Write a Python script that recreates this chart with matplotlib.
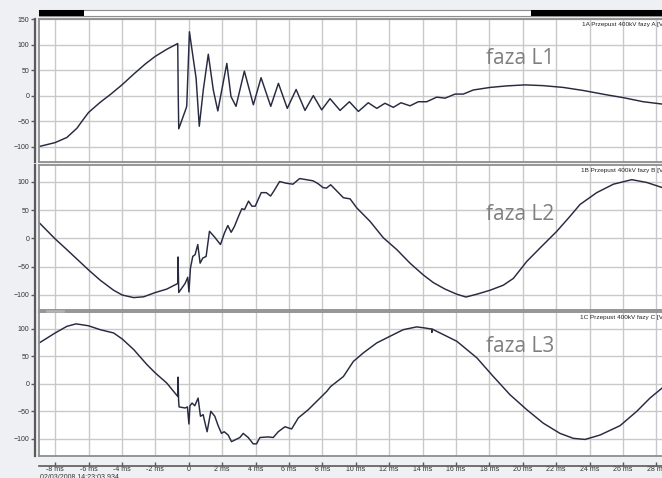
import matplotlib
matplotlib.use("Agg")
import matplotlib.pyplot as plt
from matplotlib.patches import Rectangle
from matplotlib.lines import Line2D

# --- przebiegi napięć [ms], [V] ---
l1_t = [-8.95, -8.0, -7.3, -6.7, -6.3, -6.0, -5.3, -4.7, -4.0, -3.3, -2.6, -2.0,
        -1.3, -0.66, -0.63, -0.60, -0.16, -0.12, 0.04, 0.28, 0.44, 0.63, 0.87,
        1.17, 1.47, 1.74, 2.28, 2.53, 2.83, 3.33, 3.87, 4.33, 4.91, 5.37, 5.90,
        6.43, 6.96, 7.46, 7.96, 8.46, 9.06, 9.62, 10.16, 10.75, 11.26, 11.75,
        12.25, 12.71, 13.25, 13.75, 14.25, 14.85, 15.35, 15.95, 16.44, 17.04,
        18.04, 19.04, 20.14, 21.23, 22.43, 23.63, 25.03, 26.02, 27.22, 28.46]
l1_v = [-99.6, -92, -82, -64, -46, -33, -13, 2, 21, 42, 62, 77,
        91, 102, 0, -65, -25, -20, 125, 70, 34, -60, 11,
        81, 11, -30, 63, -2, -21, 48, -18, 35, -21, 24, -25,
        12, -29, 0, -28, -6, -29, -12, -31, -14, -25, -15,
        -23, -14, -20, -12, -12, -3, -5, 3, 3, 11,
        16, 19, 21, 19.5, 16, 10, 1.5, -4, -12, -17]

l2_t = [-8.95, -8.0, -7.3, -6.0, -5.31, -4.5, -3.98, -3.3, -2.7, -2.0, -1.32,
        -0.66, -0.64, -0.60, -0.22, -0.06, 0.01, 0.10, 0.24, 0.38, 0.54, 0.68,
        0.84, 1.04, 1.24, 1.54, 1.90, 2.14, 2.34, 2.54, 2.74, 2.98, 3.18, 3.34,
        3.58, 3.78, 3.98, 4.34, 4.64, 4.90, 5.10, 5.44, 5.84, 6.24, 6.64, 7.04,
        7.44, 7.74, 8.04, 8.24, 8.50, 9.26, 9.66, 10.06, 10.86, 11.65, 12.46,
        13.25, 14.05, 14.65, 15.35, 16.05, 16.6, 17.25, 18.04, 18.84, 19.44,
        20.24, 21.04, 22.04, 22.83, 23.43, 24.43, 25.43, 26.53, 27.43, 28.46]
l2_v = [27.5, -1, -20, -56, -74, -92, -100.5, -105, -103.6, -96, -90,
        -80, -33, -96, -80, -69, -95, -53, -32, -29, -11, -44,
        -35, -32, 12.5, 2.5, -11, 9.6, 22.7, 10.7, 21.4, 39, 52.5, 51,
        66, 57, 57, 81, 81, 75, 84, 100.7, 97.7, 96, 106, 104,
        102, 97, 90, 89, 95, 72, 70, 54, 30, 1, -20,
        -44, -65, -78.5, -90, -99, -104, -99, -92, -83, -71,
        -41, -17, 12.5, 39, 60, 81, 96, 104, 99, 89]

l3_t = [-8.95, -8.0, -7.3, -6.75, -6.0, -5.31, -4.5, -3.98, -3.3, -2.5, -2.0,
        -1.32, -0.66, -0.64, -0.61, -0.58, -0.22, -0.08, 0.01, 0.07, 0.20, 0.36,
        0.56, 0.70, 0.86, 1.00, 1.10, 1.32, 1.56, 1.76, 1.96, 2.12, 2.36, 2.56,
        2.76, 3.06, 3.26, 3.56, 3.86, 4.06, 4.26, 4.76, 5.06, 5.36, 5.76, 6.16,
        6.56, 7.16, 7.76, 8.26, 8.50, 9.26, 9.86, 10.46, 11.26, 12.05, 12.85,
        13.65, 14.15, 14.55, 14.56, 14.58, 15.25, 16.05, 17.25, 18.24, 19.24,
        20.24, 21.23, 22.23, 23.03, 23.73, 24.63, 25.83, 26.83, 27.62, 28.46]
l3_v = [74, 92, 104, 108.5, 105, 98, 92, 81, 62, 34.5, 19.4,
        1.3, -23, 12, -29, -42, -44, -42, -73, -40, -35, -40,
        -26, -59, -56, -74.5, -87, -50, -59, -76, -90, -87, -93, -105,
        -102, -97.5, -90, -97.5, -109, -109, -97.5, -96.4, -97.5, -87, -78, -82,
        -62, -47, -29, -14, -5, 13, 40.5, 56, 74, 86, 98,
        103, 101, 99, 93, 99, 89, 77, 47, 13, -20,
        -47, -71.5, -90, -99, -101, -93, -76, -50, -26, -5]

x_ticks = [-8, -6, -4, -2, 0, 2, 4, 6, 8, 10, 12, 14, 16, 18, 20, 22, 24, 26, 28]
x_labels = [("0" if t == 0 else f"{t} ms") for t in x_ticks]
y_ticks_top = [150, 100, 50, 0, -50, -100]
y_ticks = [100, 50, 0, -50, -100]
channels = ["1A Przepust 400kV fazy A [V]", "1B Przepust 400kV fazy B [V]",
            "1C Przepust 400kV fazy C [V]"]
phases = ["faza L1", "faza L2", "faza L3"]
stamp = "02/03/2008 14:23:03.934"

W, H = 662, 478
X0 = 39.3
TRACE = "#272a40"
FRAME = "#8e8e8e"
AXIS = "#5a5a5a"
GRID = "#c9c9c9"


def rect(left, top, right, bottom):
    return [left / W, 1 - bottom / H, (right - left) / W, (bottom - top) / H]


fig = plt.figure(figsize=(W / 100, H / 100), dpi=100, facecolor="#eef0f3")

panels = [
    ((19, 162), (-130, 150), y_ticks_top, l1_t, l1_v, 24.5, 58),
    ((165, 310), (-127, 130), y_ticks, l2_t, l2_v, 170.7, 215),
    ((312, 456), (-131, 130), y_ticks, l3_t, l3_v, 317.3, 346.7),
]

axes = []
for i, ((top, bot), ylim, yt, t, v, ch_y, ph_y) in enumerate(panels):
    ax = fig.add_axes(rect(X0, top, 664, bot))
    ax.set_facecolor("white")
    ax.plot(t, v, color=TRACE, lw=1.05)
    ax.set_xlim(-8.95, 28.46)
    ax.set_ylim(*ylim)
    ax.set_xticks(x_ticks)
    ax.set_yticks(yt)
    ax.grid(True, color=GRID, lw=1.0)
    ax.set_axisbelow(True)
    for s in ("top", "right", "bottom"):
        ax.spines[s].set_color(FRAME)
        ax.spines[s].set_linewidth(1.3)
    ax.spines["left"].set_position(("outward", 3))
    ax.spines["left"].set_color(AXIS)
    ax.spines["left"].set_linewidth(1.6)
    # ramka panelu po lewej stronie (oś Y jest odsunięta)
    ax.add_line(Line2D([0, 0], [0, 1], transform=ax.transAxes, color=FRAME,
                       lw=1.3, clip_on=False))
    ax.tick_params(axis="y", direction="out", length=3, width=1, color=AXIS,
                   labelsize=5, labelcolor="#333333", pad=1)
    if i < 2:
        ax.tick_params(axis="x", length=0, labelbottom=False)
    else:
        ax.spines["bottom"].set_position(("outward", 7))
        ax.spines["bottom"].set_color(AXIS)
        ax.spines["bottom"].set_linewidth(1.2)
        ax.add_line(Line2D([0, 1], [0, 0], transform=ax.transAxes, color=FRAME,
                           lw=1.3, clip_on=False))
        ax.set_xticklabels(x_labels)
        ax.tick_params(axis="x", direction="in", length=3, width=1, color=AXIS,
                       labelsize=5, labelcolor="#333333", pad=0.5)
    for lab in ax.get_xticklabels() + ax.get_yticklabels():
        lab.set_family("Liberation Sans")
    fig.text(665 / W, 1 - ch_y / H, channels[i], ha="right", va="center",
             fontsize=4.6, family="Liberation Sans", color="#222222")
    fig.text(520 / W, 1 - ph_y / H, phases[i], ha="center", va="center",
             fontsize=15, family="Open Sans", color="#7f7f7f")
    axes.append(ax)

# pasek przewijania nad wykresami
fig.patches.append(Rectangle((X0 / W, 1 - 16 / H), (662 - X0) / W, 6 / H,
                             transform=fig.transFigure, facecolor="white",
                             edgecolor=FRAME, lw=0.8))
fig.patches.append(Rectangle((X0 / W, 1 - 16 / H), (84.3 - X0) / W, 6 / H,
                             transform=fig.transFigure, facecolor="black",
                             edgecolor="none"))
fig.patches.append(Rectangle((531 / W, 1 - 16 / H), (662 - 531) / W, 6 / H,
                             transform=fig.transFigure, facecolor="black",
                             edgecolor="none"))
fig.lines.append(Line2D([47 / W, 63 / W], [1 - 310.5 / H, 1 - 310.5 / H],
                        transform=fig.transFigure, color="#b4b4b4", lw=1.8))

fig.text(40 / W, 1 - 474 / H, stamp, ha="left", va="top", fontsize=5,
         family="Liberation Sans", color="#333333")

fig.savefig("out.png", dpi=100, facecolor=fig.get_facecolor())
